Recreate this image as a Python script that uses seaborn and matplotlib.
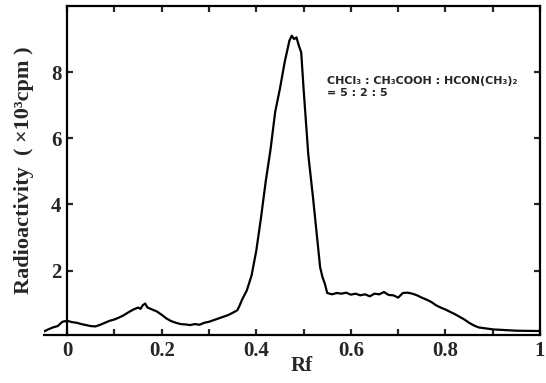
import numpy as np
import matplotlib
matplotlib.use('Agg')
import matplotlib.pyplot as plt
import pandas as pd
import seaborn as sns

# Radiochromatogram scan
rf = [-0.05, -0.04, -0.03, -0.02, -0.01, 0.0, 0.01, 0.02, 0.03, 0.04,
      0.05, 0.06, 0.07, 0.08, 0.09, 0.10, 0.11, 0.12, 0.13, 0.14,
      0.15, 0.155, 0.16, 0.165, 0.17, 0.18, 0.19, 0.20, 0.21, 0.22,
      0.23, 0.24, 0.25, 0.26, 0.27, 0.28, 0.29, 0.30, 0.31, 0.32,
      0.33, 0.34, 0.35, 0.36, 0.365, 0.37, 0.38, 0.39, 0.40, 0.41,
      0.42, 0.43, 0.44, 0.45, 0.46, 0.47, 0.475, 0.48, 0.485, 0.49,
      0.495, 0.50, 0.51, 0.52, 0.53, 0.535, 0.54, 0.545, 0.55, 0.56,
      0.57, 0.58, 0.59, 0.60, 0.61, 0.62, 0.63, 0.64, 0.65, 0.66,
      0.67, 0.68, 0.69, 0.70, 0.71, 0.72, 0.73, 0.74, 0.75, 0.76,
      0.77, 0.78, 0.79, 0.80, 0.81, 0.82, 0.83, 0.84, 0.85, 0.86,
      0.87, 0.88, 0.89, 0.90, 0.95, 1.00]
counts = [0.15, 0.22, 0.28, 0.32, 0.45, 0.48, 0.44, 0.42, 0.38, 0.35,
          0.32, 0.31, 0.36, 0.42, 0.48, 0.52, 0.58, 0.65, 0.74, 0.82,
          0.88, 0.84, 0.95, 1.00, 0.88, 0.82, 0.76, 0.66, 0.55, 0.47,
          0.42, 0.38, 0.37, 0.35, 0.38, 0.36, 0.42, 0.45, 0.50, 0.55,
          0.60, 0.65, 0.72, 0.80, 0.95, 1.12, 1.40, 1.85, 2.60, 3.60,
          4.70, 5.65, 6.80, 7.50, 8.30, 8.95, 9.10, 9.00, 9.05, 8.80,
          8.60, 7.50, 5.50, 4.20, 2.80, 2.10, 1.80, 1.60, 1.32, 1.28,
          1.32, 1.30, 1.33, 1.27, 1.30, 1.25, 1.28, 1.22, 1.30, 1.28,
          1.35, 1.26, 1.25, 1.18, 1.32, 1.33, 1.30, 1.25, 1.18, 1.12,
          1.05, 0.95, 0.88, 0.82, 0.75, 0.68, 0.60, 0.52, 0.42, 0.34,
          0.28, 0.26, 0.24, 0.22, 0.18, 0.17]

x_ticks = [0, 0.2, 0.4, 0.6, 0.8, 1.0]
x_labels = ['0', '0.2', '0.4', '0.6', '0.8', '1']
x_minor = [0.1, 0.3, 0.5, 0.7, 0.9]
y_ticks = [2, 4, 6, 8]

df = pd.DataFrame({'Rf': rf, 'cpm': counts})

sns.set_style('ticks')
plt.rcParams['font.family'] = ['Liberation Serif', 'DejaVu Serif']
plt.rcParams['font.weight'] = 'bold'

fig = plt.figure(figsize=(5.46, 3.83), dpi=100)
ax = fig.add_axes([43.5 / 546, 1 - 335 / 383, 496.5 / 546, 329 / 383])

sns.lineplot(data=df, x='Rf', y='cpm', color='black', linewidth=1.6, ax=ax)

ax.set_xlim(-0.05, 1.0)
ax.set_ylim(0.05, 10)

# the y axis sits at Rf = 0, the plate origin
ax.spines['left'].set_position(('data', 0))
ax.spines['top'].set_bounds(0, 1.0)
for s in ax.spines.values():
    s.set_linewidth(1.6)
    s.set_color('black')

ax.set_xticks(x_ticks)
ax.set_xticklabels(x_labels)
ax.set_xticks(x_minor, minor=True)
ax.set_yticks(y_ticks)
ax.set_yticklabels([str(v) for v in y_ticks])
ax.tick_params(which='both', direction='in', length=4, width=1.6,
               top=True, right=True, labelsize=15, pad=4)

ax.set_xlabel('Rf', fontsize=15, fontweight='bold')
ax.set_ylabel('Radioactivity  ( ×10³cpm )', fontsize=16, fontweight='bold')
ax.xaxis.set_label_coords(0.52, -0.065)
ax.yaxis.set_label_coords(-0.02, 0.5)

ax.text(0.549, 7.74, 'CHCl₃ : CH₃COOH : HCON(CH₃)₂', fontsize=8,
        family='DejaVu Sans', fontweight='bold', va='center')
ax.text(0.549, 7.36, '= 5 : 2 : 5', fontsize=8,
        family='DejaVu Sans', fontweight='bold', va='center')

fig.savefig('out.png', dpi=100)
